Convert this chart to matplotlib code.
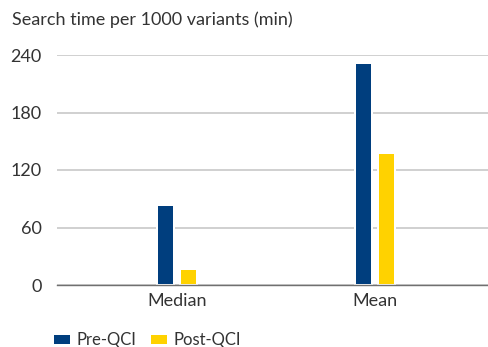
import matplotlib
matplotlib.use("Agg")
import matplotlib.pyplot as plt
from matplotlib.patches import Patch
import numpy as np

categories = ["Median", "Mean"]
series_names = ["Pre-QCI", "Post-QCI"]
pre_qci = [84, 232]
post_qci = [17, 138]
y_ticks = [0, 60, 120, 180, 240]
title = "Search time per 1000 variants (min)"

colors = ["#003e7e", "#ffd200"]
plt.rcParams["font.family"] = ["Lato", "DejaVu Sans"]
FS = 13

W, H, DPI = 489, 347, 100
fig = plt.figure(figsize=(W / DPI, H / DPI), dpi=DPI)
ax_left, ax_right = 57, 489
ax_bottom, ax_top = 285, 55
ax = fig.add_axes([ax_left / W, (H - ax_bottom) / H,
                   (ax_right - ax_left) / W, (ax_bottom - ax_top) / H])

x = np.arange(len(categories))
px = 198.0  # pixels per category unit
bar_w = 17 / px
offset = 11.5 / px
lw = 2 * 72 / DPI
ax.bar(x - offset, pre_qci, width=bar_w, color=colors[0], edgecolor="white",
       linewidth=lw, zorder=3)
ax.bar(x + offset, post_qci, width=bar_w, color=colors[1], edgecolor="white",
       linewidth=lw, zorder=3)

left_lim = -(177 - ax_left) / px
right_lim = 1 + (ax_right - 375) / px
ax.set_xlim(left_lim, right_lim)
ax.set_ylim(0, 240)
ax.set_yticks(y_ticks)
ax.set_xticks(x)
ax.set_xticklabels(categories)
ax.tick_params(axis="both", length=0, labelsize=FS, colors="#333333")
ax.tick_params(axis="y", pad=11)
ax.tick_params(axis="x", pad=6)
ax.yaxis.grid(True, color="#c4c4c4", linewidth=1.1, zorder=0)
ax.set_axisbelow(True)
for s in ["left", "right", "top"]:
    ax.spines[s].set_visible(False)
ax.spines["bottom"].set_color("#707070")
ax.spines["bottom"].set_linewidth(1.0)
ax.spines["bottom"].set_zorder(4)

fig.text(12 / W, 1 - 20 / H, title, fontsize=FS, color="#333333",
         ha="left", va="center")

handles = [Patch(facecolor=c, edgecolor="none") for c in colors]
fig.legend(handles, series_names, loc="center left",
           bbox_to_anchor=(39 / W, 1 - 340 / H), ncol=2, frameon=False,
           fontsize=12, handlelength=0.95, handleheight=0.45,
           handletextpad=0.4, columnspacing=0.9, labelcolor="#333333")

fig.savefig("out.png", dpi=DPI)
